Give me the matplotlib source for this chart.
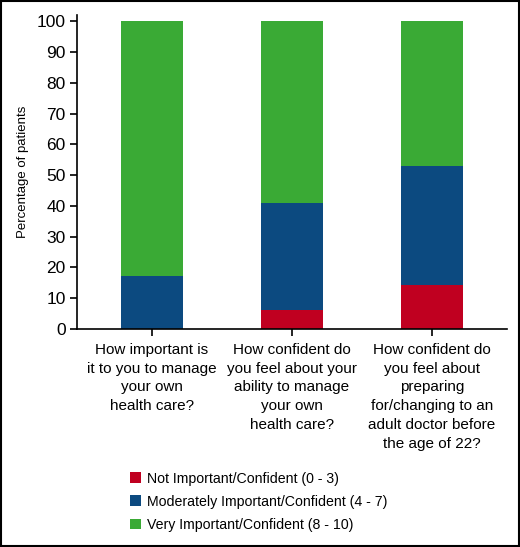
import matplotlib.pyplot as plt
from matplotlib.patches import Rectangle
import numpy as np

questions = [
    "How important is\nit to you to manage\nyour own\nhealth care?",
    "How confident do\nyou feel about your\nability to manage\nyour own\nhealth care?",
    "How confident do\nyou feel about\npreparing\nfor/changing to an\nadult doctor before\nthe age of 22?",
]
not_important = [0.0, 6.1, 14.3]
moderately = [17.3, 35.0, 38.8]
very = [82.7, 58.9, 46.9]
series_labels = [
    "Not Important/Confident (0 - 3)",
    "Moderately Important/Confident (4 - 7)",
    "Very Important/Confident (8 - 10)",
]
colors = ["#C00020", "#0C4A80", "#3AAA35"]

plt.rcParams['font.family'] = ['Liberation Sans', 'DejaVu Sans']

fig = plt.figure(figsize=(5.2, 5.47), dpi=100)
ax = fig.add_axes([0.148, 0.3985, 0.827, 0.574])

x = np.arange(len(questions))
w = 0.443
b1 = ax.bar(x, not_important, w, color=colors[0], label=series_labels[0])
b2 = ax.bar(x, moderately, w, bottom=not_important, color=colors[1], label=series_labels[1])
bottom3 = np.array(not_important) + np.array(moderately)
b3 = ax.bar(x, very, w, bottom=bottom3, color=colors[2], label=series_labels[2])

ax.set_xlim(-0.536, 2.536)
ax.set_ylim(0, 102)
ax.set_yticks(range(0, 101, 10))
ax.set_xticks(x)
ax.set_xticklabels(questions, fontsize=11, linespacing=1.43)
ax.tick_params(axis='y', labelsize=12.5, length=5, width=1.2, direction='out', pad=3)
ax.tick_params(axis='x', length=5, width=1.2, direction='out', pad=5)
for s in ['top', 'right']:
    ax.spines[s].set_visible(False)
for s in ['left', 'bottom']:
    ax.spines[s].set_linewidth(1.2)
ax.set_ylabel("Percentage of patients", fontsize=9.5, labelpad=6)

fig.legend(handles=[b1, b2, b3], loc='upper left', bbox_to_anchor=(0.25, 0.138),
           frameon=False, fontsize=10.2, handlelength=0.78, handleheight=0.78,
           handletextpad=0.4, labelspacing=0.65, borderaxespad=0, borderpad=0)

fig.patches.append(Rectangle((0.002, 0.002), 0.996, 0.996, transform=fig.transFigure,
                             fill=False, edgecolor='black', linewidth=1.5))

fig.savefig("out.png", dpi=100)
